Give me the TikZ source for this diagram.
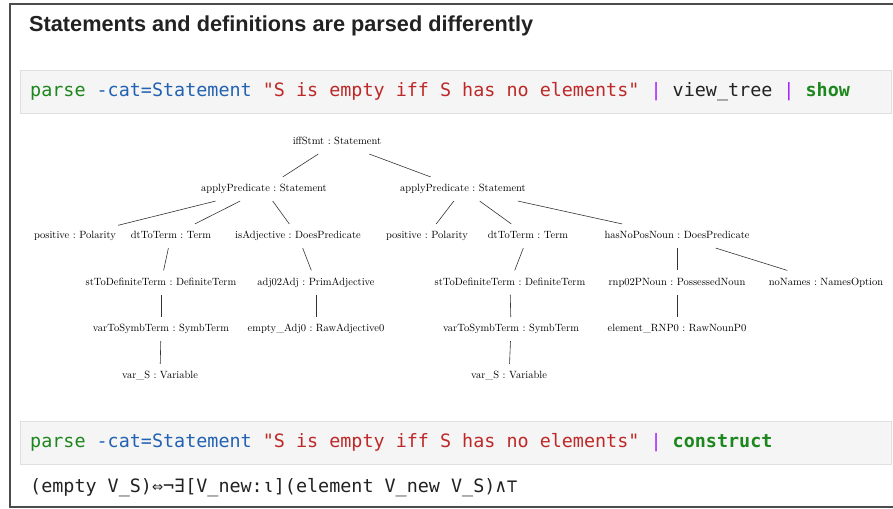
\documentclass[tikz,border=0pt]{standalone}
\usepackage{fontspec}
\usepackage{tikz}

\newfontfamily\codefam{DejaVu Sans Mono}
\newfontfamily\titlefam{Liberation Sans}
\newcommand{\treefont}{\fontsize{10.5}{12}\selectfont\frenchspacing}
\newcommand{\codefont}{\codefam\fontsize{18.4}{22}\selectfont}

\definecolor{kwgreen}{HTML}{1C871C}
\definecolor{optblue}{HTML}{2262B2}
\definecolor{strred}{HTML}{BE2828}
\definecolor{pipepurple}{HTML}{AA22FF}
\definecolor{cellgray}{HTML}{F5F5F5}
\definecolor{cellline}{HTML}{E0E0E0}
\definecolor{inkgray}{HTML}{222222}

\tikzset{
  tnode/.style={font=\treefont, text height=7.5pt, text depth=2.2pt, inner xsep=2pt, inner ysep=7pt},
  tedge/.style={draw=black!80, line width=0.6pt},
  codebox/.style={fill=cellgray, draw=cellline, line width=1pt},
  codeline/.style={anchor=base west, inner sep=0pt, font=\codefont, text=inkgray},
  frame/.style={draw=black!70, line width=1.5pt}
}

\begin{document}
\begin{tikzpicture}[x=1pt,y=-1pt]
\useasboundingbox (0,0) rectangle (893,508);
% outer cell frame
\draw[frame] (893,4) -- (10,4) -- (10,507) -- (893,507);
\node[anchor=base west, inner sep=0pt, text=inkgray] (title) at (29,31.5)
  {\titlefam\bfseries\fontsize{21.7}{26}\selectfont Statements and definitions are parsed differently};

% first input cell
\draw[codebox] (20.5,70.5) rectangle (891,114);
\node[codeline] (cmdA) at (30,97) {\textcolor{kwgreen}{parse} \textcolor{optblue}{-cat=Statement} \textcolor{strred}{"S is empty iff S has no elements"} \textcolor{pipepurple}{|} view\_tree \textcolor{pipepurple}{|} \textcolor{kwgreen}{\bfseries show}};

% parse tree
\node[tnode] (root) at (337,142) {iffStmt : Statement};
\node[tnode] (apL) at (264,189) {applyPredicate : Statement};
\node[tnode] (apR) at (463,189) {applyPredicate : Statement};
\node[tnode] (polL) at (75,236) {positive : Polarity};
\node[tnode] (dtL) at (171,236) {dtToTerm : Term};
\node[tnode] (isAdj) at (298,236) {isAdjective : DoesPredicate};
\node[tnode] (polR) at (427,236) {positive : Polarity};
\node[tnode] (dtR) at (528,236) {dtToTerm : Term};
\node[tnode] (hasNo) at (677,236) {hasNoPosNoun : DoesPredicate};
\node[tnode] (stL) at (161,282.5) {stToDefiniteTerm : DefiniteTerm};
\node[tnode] (adj) at (316,282.5) {adj02Adj : PrimAdjective};
\node[tnode] (stR) at (510,282.5) {stToDefiniteTerm : DefiniteTerm};
\node[tnode] (rnp) at (677,282.5) {rnp02PNoun : PossessedNoun};
\node[tnode] (noNm) at (826,282.5) {noNames : NamesOption};
\node[tnode] (varL) at (161,329) {varToSymbTerm : SymbTerm};
\node[tnode] (emptyA) at (316,329) {empty\_Adj0 : RawAdjective0};
\node[tnode] (varR) at (511,329) {varToSymbTerm : SymbTerm};
\node[tnode] (elemR) at (677,329) {element\_RNP0 : RawNounP0};
\node[tnode] (vsL) at (160,376) {var\_S : Variable};
\node[tnode] (vsR) at (509,376) {var\_S : Variable};

\foreach \a/\b in {root/apL, root/apR, apL/polL, apL/dtL, apL/isAdj,
                   apR/polR, apR/dtR, apR/hasNo, dtL/stL, isAdj/adj,
                   dtR/stR, hasNo/rnp, hasNo/noNm, stL/varL, adj/emptyA,
                   stR/varR, rnp/elemR, varL/vsL, varR/vsR}
{
	\draw[tedge] (\a) -- (\b);
}

% second input cell and its output
\draw[codebox] (20.5,421) rectangle (891,464);
\node[codeline] (cmdB) at (30,447) {\textcolor{kwgreen}{parse} \textcolor{optblue}{-cat=Statement} \textcolor{strred}{"S is empty iff S has no elements"} \textcolor{pipepurple}{|} \textcolor{kwgreen}{\bfseries construct}};
\node[codeline] (result) at (30,492) {(empty V\_S)⇔¬∃[V\_new:ι](element V\_new V\_S)∧⊤};
\end{tikzpicture}
\end{document}
